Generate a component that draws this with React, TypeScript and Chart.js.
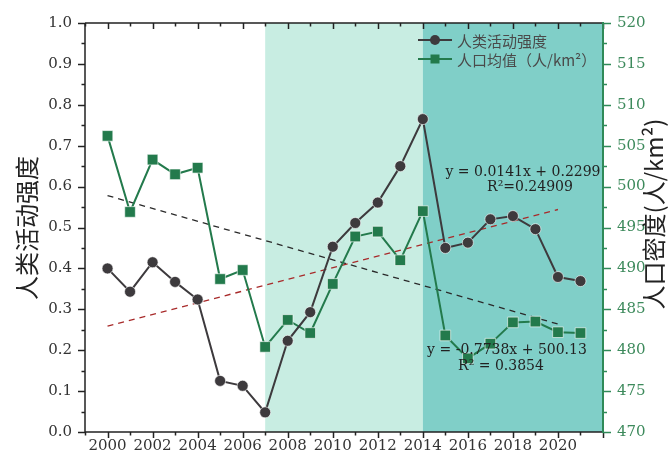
import React, { useEffect, useRef } from 'react';
import { Chart, registerables } from 'chart.js';

Chart.register(...registerables);

const years = [2000, 2001, 2002, 2003, 2004, 2005, 2006, 2007, 2008, 2009, 2010, 2011, 2012, 2013, 2014, 2015, 2016, 2017, 2018, 2019, 2020, 2021];
const humanActivity = [0.40, 0.343, 0.415, 0.367, 0.324, 0.125, 0.113, 0.048, 0.223, 0.293, 0.453, 0.511, 0.561, 0.65, 0.765, 0.45, 0.463, 0.52, 0.528, 0.496, 0.379, 0.369];
const populationMean = [506.2, 496.9, 503.3, 501.5, 502.3, 488.7, 489.8, 480.4, 483.7, 482.1, 488.1, 493.9, 494.5, 491.0, 497.0, 481.8, 479.0, 480.8, 483.4, 483.5, 482.2, 482.1];
const trendYears = [2000, 2020];
const activityTrend = [0.259, 0.544];
const populationTrend = [498.9, 483.2];
const periodBounds = [2007, 2014, 2022];
const xRange = [1999, 2022];
const leftRange = [0, 1];
const rightRange = [470, 520];

const activityLabel = '人类活动强度';
const populationLabel = '人口均值（人/km²）';
const leftTitle = '人类活动强度';
const rightTitle = '人口密度(人/km²)';
const activityEq = ['y = 0.0141x + 0.2299', 'R²=0.24909'];
const populationEq = ['y = -0.7738x + 500.13', 'R² = 0.3854'];

const DARK = '#3d3a3d';
const GREEN = '#237a4c';
const GREEN_AXIS = '#2f8a58';
const GREEN_TEXT = '#3d8a5c';
const SERIF = '"DejaVu Serif", "Liberation Serif", serif';
const CJK = '"Noto Sans CJK SC", "Noto Sans", sans-serif';

const decorPlugin = {
  id: 'decor',
  beforeDatasetsDraw(chart: any) {
    const { ctx, chartArea: a, scales } = chart;
    const x = scales.x;
    ctx.save();
    const fills = ['#c8ede2', '#80cfc8'];
    for (let i = 0; i < 2; i++) {
      const x0 = x.getPixelForValue(periodBounds[i]);
      const x1 = x.getPixelForValue(periodBounds[i + 1]);
      ctx.fillStyle = fills[i];
      ctx.fillRect(x0, a.top, x1 - x0, a.bottom - a.top);
    }
    ctx.restore();
  },
  afterDraw(chart: any) {
    const { ctx, chartArea: a, scales } = chart;
    const x = scales.x, y = scales.y, y1 = scales.y1;
    ctx.save();
    ctx.lineCap = 'butt';
    ctx.strokeStyle = '#222';
    ctx.lineWidth = 1.5;
    ctx.beginPath();
    ctx.moveTo(a.left, a.top); ctx.lineTo(a.right, a.top);
    ctx.moveTo(a.left, a.top); ctx.lineTo(a.left, a.bottom);
    ctx.moveTo(a.left, a.bottom); ctx.lineTo(a.right, a.bottom);
    ctx.stroke();
    for (let v = xRange[0]; v <= xRange[1]; v++) {
      const px = Math.round(x.getPixelForValue(v)) + 0.5;
      const major = v % 2 === 0;
      const len = major ? 6 : 3.5;
      ctx.beginPath();
      ctx.moveTo(px, a.bottom); ctx.lineTo(px, a.bottom + len);
      ctx.moveTo(px, a.top); ctx.lineTo(px, a.top + len);
      ctx.stroke();
    }
    for (let i = 0; i <= 20; i++) {
      const v = leftRange[0] + (i * (leftRange[1] - leftRange[0])) / 20;
      const py = Math.round(y.getPixelForValue(v)) + 0.5;
      const len = i % 2 === 0 ? 7 : 3.5;
      ctx.beginPath();
      ctx.moveTo(a.left, py); ctx.lineTo(a.left - len, py);
      ctx.stroke();
    }
    ctx.strokeStyle = GREEN_AXIS;
    ctx.lineWidth = 2;
    ctx.beginPath();
    ctx.moveTo(a.right, a.top - 1); ctx.lineTo(a.right, a.bottom + 1);
    ctx.stroke();
    ctx.lineWidth = 1.5;
    for (let i = 0; i <= 20; i++) {
      const v = rightRange[0] + (i * (rightRange[1] - rightRange[0])) / 20;
      const py = Math.round(y1.getPixelForValue(v)) + 0.5;
      const len = i % 2 === 0 ? 8 : 4;
      ctx.beginPath();
      ctx.moveTo(a.right, py); ctx.lineTo(a.right + len, py);
      ctx.stroke();
    }
    ctx.fillStyle = '#222';
    ctx.textAlign = 'center';
    ctx.textBaseline = 'middle';
    ctx.save();
    ctx.font = '24px ' + CJK;
    ctx.translate(27, 228);
    ctx.rotate(-Math.PI / 2);
    ctx.fillText(leftTitle, 0, 0);
    ctx.restore();
    ctx.save();
    ctx.font = '24px ' + CJK;
    ctx.translate(654, 214);
    ctx.rotate(-Math.PI / 2);
    ctx.fillText(rightTitle, 0, 0);
    ctx.restore();
    ctx.fillStyle = '#222';
    ctx.font = '14px ' + SERIF;
    ctx.fillText(activityEq[0], 523, 172);
    ctx.fillText(activityEq[1], 530, 187);
    ctx.fillText(populationEq[0], 507, 350);
    ctx.fillText(populationEq[1], 501, 366);
    const lx0 = 418, lx1 = 452, tx = 457;
    const rows = [
      { y: 40, color: DARK, label: activityLabel, shape: 'circle' },
      { y: 59, color: GREEN, label: populationLabel, shape: 'rect' },
    ];
    ctx.textAlign = 'left';
    ctx.font = '15px ' + CJK;
    for (const r of rows) {
      ctx.strokeStyle = r.color;
      ctx.lineWidth = 2;
      ctx.beginPath();
      ctx.moveTo(lx0, r.y); ctx.lineTo(lx1, r.y);
      ctx.stroke();
      ctx.fillStyle = r.color;
      const cx = (lx0 + lx1) / 2;
      ctx.beginPath();
      if (r.shape === 'circle') {
        ctx.arc(cx, r.y, 5, 0, Math.PI * 2);
      } else {
        ctx.rect(cx - 4.5, r.y - 4.5, 9, 9);
      }
      ctx.fill();
      ctx.fillStyle = '#4a4a4a';
      ctx.fillText(r.label, tx, r.y + 1);
    }
    ctx.restore();
  },
};

export default function App() {
  const ref = useRef<HTMLCanvasElement | null>(null);
  useEffect(() => {
    document.body.style.margin = '0';
    const canvas = ref.current;
    if (!canvas) return;
    const chart = new Chart(canvas, {
      type: 'line',
      data: {
        datasets: [
          {
            label: activityLabel,
            data: years.map((yr, i) => ({ x: yr, y: humanActivity[i] })),
            yAxisID: 'y',
            borderColor: DARK,
            backgroundColor: DARK,
            borderWidth: 2,
            pointStyle: 'circle',
            pointRadius: 5.5,
            pointBorderColor: 'rgba(255,255,255,0.6)',
            pointBorderWidth: 1,
            tension: 0,
            order: 1,
          },
          {
            label: populationLabel,
            data: years.map((yr, i) => ({ x: yr, y: populationMean[i] })),
            yAxisID: 'y1',
            borderColor: GREEN,
            backgroundColor: GREEN,
            borderWidth: 2,
            pointStyle: 'rect',
            pointRadius: 7.5,
            pointBorderColor: 'rgba(255,255,255,0.6)',
            pointBorderWidth: 1,
            tension: 0,
            order: 2,
          },
          {
            label: 'activity trend',
            data: trendYears.map((yr, i) => ({ x: yr, y: activityTrend[i] })),
            yAxisID: 'y',
            borderColor: '#a82a2a',
            borderWidth: 1.3,
            borderDash: [6, 5],
            pointRadius: 0,
            order: 3,
          },
          {
            label: 'population trend',
            data: trendYears.map((yr, i) => ({ x: yr, y: populationTrend[i] })),
            yAxisID: 'y1',
            borderColor: '#2a2a2a',
            borderWidth: 1.3,
            borderDash: [6, 5],
            pointRadius: 0,
            order: 4,
          },
        ],
      },
      options: {
        responsive: false,
        animation: false,
        devicePixelRatio: 1,
        layout: { padding: { top: 15, left: 0, right: 0, bottom: 0 } },
        plugins: { legend: { display: false }, tooltip: { enabled: false } },
        scales: {
          x: {
            type: 'linear',
            min: xRange[0],
            max: xRange[1],
            grid: { display: false, drawTicks: false },
            border: { display: false },
            ticks: {
              stepSize: 1,
              autoSkip: false,
              maxRotation: 0,
              padding: 5,
              color: '#333',
              font: { family: SERIF, size: 15 },
              callback: (v: any) => (v % 2 === 0 && v >= 2000 && v <= 2020 ? String(v) : ''),
            },
            afterFit: (s: any) => { s.height = 26; },
          },
          y: {
            position: 'left',
            min: leftRange[0],
            max: leftRange[1],
            grid: { display: false, drawTicks: false },
            border: { display: false },
            ticks: {
              stepSize: 0.1,
              padding: 13,
              color: '#333',
              font: { family: SERIF, size: 15 },
              callback: (v: any) => Number(v).toFixed(1),
            },
            afterFit: (s: any) => { s.width = 85; },
          },
          y1: {
            position: 'right',
            min: rightRange[0],
            max: rightRange[1],
            grid: { display: false, drawTicks: false },
            border: { display: false },
            ticks: {
              stepSize: 5,
              padding: 14,
              color: GREEN_TEXT,
              font: { family: SERIF, size: 15 },
            },
            afterFit: (s: any) => { s.width = 67; },
          },
        },
      },
      plugins: [decorPlugin],
    } as any);
    return () => chart.destroy();
  }, []);
  return (
    <div style={{ width: 670, height: 458 }}>
      <canvas ref={ref} width={670} height={458} style={{ display: 'block' }} />
    </div>
  );
}
